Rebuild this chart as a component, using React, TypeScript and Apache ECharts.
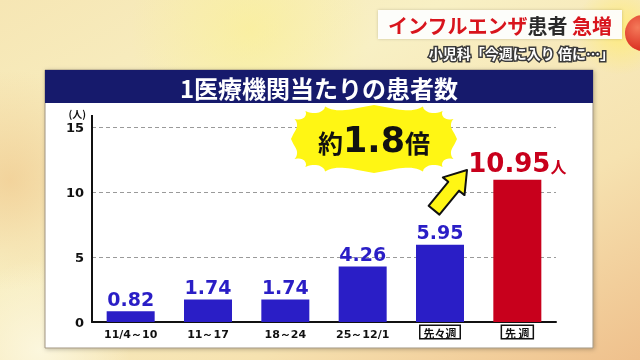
import React, { useEffect, useRef } from "react";
import * as echarts from "echarts";

const categories = ["11/4～10", "11～17", "18～24", "25～12/1", "先々週", "先 週"];
const values = [0.82, 1.74, 1.74, 4.26, 5.95, 10.95];
const yMin = 0;
const yMax = 15;
const yInterval = 5;
const boxedCategories = ["先々週", "先 週"];
const chartTitle = "1医療機関当たりの患者数";
const headline = ["インフルエンザ", "患者", "急増"];
const subHeadline = "小児科「今週に入り 倍に…」";
const ratioParts = ["約", "1.8", "倍"];
const unitLabel = "人";

const BLUE = "#2a1ec6";
const RED = "#c8001c";
const NUM_FONT = "DejaVu Sans";
const JP_FONT = "Noto Sans CJK JP";

function burstPoints(cx: number, cy: number, rx: number, ry: number, n: number, depth: number) {
  const pts: number[][] = [];
  const steps = 12;
  for (let i = 0; i < n; i++) {
    for (let s = 0; s < steps; s++) {
      const f = s / steps;
      const t = ((i + f) / n) * Math.PI * 2;
      const d = depth * Math.pow(Math.sin(Math.PI * f), 0.6);
      const c = Math.cos(t);
      const sn = Math.sin(t);
      const ex = Math.sign(c) * Math.pow(Math.abs(c), 0.55);
      const ey = Math.sign(sn) * Math.pow(Math.abs(sn), 0.55);
      pts.push([cx + (rx - d) * ex, cy + (ry - d) * ey]);
    }
  }
  return pts;
}

function arrowPoints(tx: number, ty: number, dx: number, dy: number, L: number, headLen: number, headW: number, shaftW: number) {
  const len = Math.hypot(dx, dy);
  const ux = dx / len;
  const uy = dy / len;
  const px = -uy;
  const py = ux;
  const bx = tx - ux * headLen;
  const by = ty - uy * headLen;
  const ex = tx - ux * L;
  const ey = ty - uy * L;
  return [
    [tx, ty],
    [bx + px * headW, by + py * headW],
    [bx + px * shaftW, by + py * shaftW],
    [ex + px * shaftW, ey + py * shaftW],
    [ex - px * shaftW, ey - py * shaftW],
    [bx - px * shaftW, by - py * shaftW],
    [bx - px * headW, by - py * headW],
  ];
}

export default function App() {
  const ref = useRef<HTMLDivElement>(null);
  useEffect(() => {
    document.body.style.margin = "0";
    const chart = echarts.init(ref.current!, null, { renderer: "svg" });

    const barData = values.map((v, i) => {
      const last = i === values.length - 1;
      return {
        value: v,
        itemStyle: { color: last ? RED : BLUE },
        label: last
          ? {
              show: true,
              position: "top",
              distance: 4,
              formatter: `{big|${v.toFixed(2)}}{unit|${unitLabel}}`,
              rich: {
                big: { fontFamily: NUM_FONT, fontWeight: "bold", fontSize: 26, color: RED },
                unit: { fontFamily: JP_FONT, fontWeight: "bold", fontSize: 16, color: RED, padding: [6, 0, 0, 0] },
              },
            }
          : undefined,
      };
    });

    const option: any = {
      animation: false,
      graphic: [
        {
          type: "rect",
          z: -20,
          shape: { x: 0, y: 0, width: 640, height: 360 },
          style: {
            fill: new echarts.graphic.LinearGradient(0, 0, 1, 1, [
              { offset: 0, color: "#f6e6b4" },
              { offset: 0.35, color: "#f8f0c4" },
              { offset: 0.7, color: "#f6e2b0" },
              { offset: 1, color: "#efc08c" },
            ]),
          },
        },
        {
          type: "circle",
          z: -19,
          shape: { cx: 250, cy: 30, r: 120 },
          style: {
            fill: new echarts.graphic.RadialGradient(0.5, 0.5, 0.5, [
              { offset: 0, color: "rgba(250,240,150,0.7)" },
              { offset: 1, color: "rgba(250,240,150,0)" },
            ]),
          },
        },
        {
          type: "circle",
          z: -19,
          shape: { cx: 10, cy: 180, r: 110 },
          style: {
            fill: new echarts.graphic.RadialGradient(0.5, 0.5, 0.5, [
              { offset: 0, color: "rgba(240,200,140,0.7)" },
              { offset: 1, color: "rgba(240,200,140,0)" },
            ]),
          },
        },
        {
          type: "circle",
          z: -19,
          shape: { cx: 40, cy: 350, r: 90 },
          style: {
            fill: new echarts.graphic.RadialGradient(0.5, 0.5, 0.5, [
              { offset: 0, color: "rgba(252,248,225,0.9)" },
              { offset: 1, color: "rgba(252,248,225,0)" },
            ]),
          },
        },
        {
          type: "circle",
          z: -19,
          shape: { cx: 620, cy: 30, r: 45 },
          style: {
            fill: new echarts.graphic.RadialGradient(0.5, 0.5, 0.5, [
              { offset: 0, color: "rgba(255,235,120,0.95)" },
              { offset: 1, color: "rgba(255,235,120,0)" },
            ]),
          },
        },
        {
          type: "circle",
          z: 2,
          shape: { cx: 643, cy: 33, r: 18 },
          style: {
            fill: new echarts.graphic.RadialGradient(0.35, 0.35, 0.7, [
              { offset: 0, color: "#f47a5a" },
              { offset: 1, color: "#d8281c" },
            ]),
          },
        },
        // panel
        {
          type: "rect",
          z: -10,
          shape: { x: 45, y: 70, width: 548, height: 278 },
          style: {
            fill: "#ffffff",
            stroke: "#a09480",
            lineWidth: 1,
            shadowBlur: 4,
            shadowColor: "rgba(0,0,0,0.25)",
            shadowOffsetX: 1,
            shadowOffsetY: 1,
          },
        },
        {
          type: "rect",
          z: -9,
          shape: { x: 45, y: 70, width: 548, height: 33 },
          style: { fill: "#161a6c" },
        },
        {
          type: "text",
          z: 5,
          x: 319,
          y: 87,
          style: {
            text: chartTitle,
            fill: "#ffffff",
            font: `bold 24px "${JP_FONT}"`,
            align: "center",
            verticalAlign: "middle",
          },
        },
        // y-axis extension above max
        {
          type: "line",
          z: 5,
          shape: { x1: 92, y1: 115, x2: 92, y2: 128 },
          style: { stroke: "#111", lineWidth: 2 },
        },
        // header box
        {
          type: "rect",
          z: 1,
          shape: { x: 378, y: 10, width: 244, height: 29 },
          style: {
            fill: "rgba(255,255,255,0.93)",
            shadowBlur: 3,
            shadowColor: "rgba(0,0,0,0.2)",
          },
        },
        {
          type: "text",
          z: 3,
          x: 612,
          y: 25,
          style: {
            text: `{r|${headline[0]}}{k|${headline[1]}}{r| ${headline[2]}}`,
            align: "right",
            verticalAlign: "middle",
            rich: {
              r: { fill: "#d8141c", color: "#d8141c", font: `bold 20px "${JP_FONT}"` },
              k: { fill: "#2a2a2a", color: "#2a2a2a", font: `bold 20px "${JP_FONT}"` },
            },
          },
        },
        {
          type: "text",
          z: 3,
          x: 614,
          y: 53,
          style: {
            text: subHeadline,
            fill: "#ffffff",
            stroke: "#3a3a3a",
            lineWidth: 3,
            font: `bold 14px "${JP_FONT}"`,
            align: "right",
            verticalAlign: "middle",
          },
        },
        // burst
        {
          type: "polygon",
          z: 10,
          shape: { points: burstPoints(374, 139, 83, 34, 16, 5) },
          style: { fill: "#fff614" },
        },
        {
          type: "text",
          z: 11,
          x: 374,
          y: 140,
          style: {
            text: `{s|${ratioParts[0]}}{b|${ratioParts[1]}}{s|${ratioParts[2]}}`,
            align: "center",
            verticalAlign: "middle",
            rich: {
              s: { fill: "#111", color: "#111", font: `bold 25px "${JP_FONT}"`, padding: [4, 0, 0, 0] },
              b: { fill: "#111", color: "#111", font: `bold 35px "${NUM_FONT}"` },
            },
          },
        },
        // arrow
        {
          type: "polygon",
          z: 10,
          shape: { points: arrowPoints(467, 170, 32, -39, 52, 21, 14, 7) },
          style: { fill: "#fff614", stroke: "#111", lineWidth: 2, lineJoin: "round" },
        },
      ],
      grid: { left: 92, right: 84, top: 127, bottom: 38, containLabel: false },
      xAxis: {
        type: "category",
        data: categories,
        axisLine: { show: true, lineStyle: { color: "#111", width: 2 } },
        axisTick: { show: false },
        axisLabel: {
          margin: 4,
          interval: 0,
          color: "#111",
          fontFamily: NUM_FONT,
          fontWeight: "bold",
          fontSize: 11,
          formatter: (v: string) => (boxedCategories.includes(v) ? `{box|${v}}` : `{n|${v}}`),
          rich: {
            n: { fontFamily: NUM_FONT, fontWeight: "bold", fontSize: 11, color: "#111", padding: [3, 0, 0, 0] },
            box: {
              fontFamily: JP_FONT,
              fontWeight: "bold",
              fontSize: 11,
              color: "#111",
              borderColor: "#111",
              borderWidth: 1.5,
              backgroundColor: "#fff",
              padding: [1, 3, 0, 3],
            },
          },
        },
      },
      yAxis: {
        type: "value",
        min: yMin,
        max: yMax,
        interval: yInterval,
        name: "(人)",
        nameLocation: "end",
        nameGap: 9,
        nameTextStyle: {
          color: "#111",
          fontFamily: JP_FONT,
          fontWeight: "bold",
          fontSize: 10,
          align: "right",
          padding: [0, 6, 0, 0],
        },
        axisLine: { show: true, lineStyle: { color: "#111", width: 2 } },
        axisTick: { show: false },
        axisLabel: {
          margin: 8,
          color: "#111",
          fontFamily: NUM_FONT,
          fontWeight: "bold",
          fontSize: 13,
        },
        splitLine: {
          show: true,
          lineStyle: { color: "#9a9a9a", type: [4, 3], width: 1 },
        },
      },
      series: [
        {
          type: "bar",
          data: barData,
          barWidth: 48,
          label: {
            show: true,
            position: "top",
            distance: 3,
            color: BLUE,
            fontFamily: NUM_FONT,
            fontWeight: "bold",
            fontSize: 19,
            formatter: (p: any) => Number(p.value).toFixed(2),
          },
        },
      ],
    };

    chart.setOption(option);
    return () => chart.dispose();
  }, []);
  return <div ref={ref} style={{ position: "fixed", left: 0, top: 0, width: 640, height: 360 }} />;
}
